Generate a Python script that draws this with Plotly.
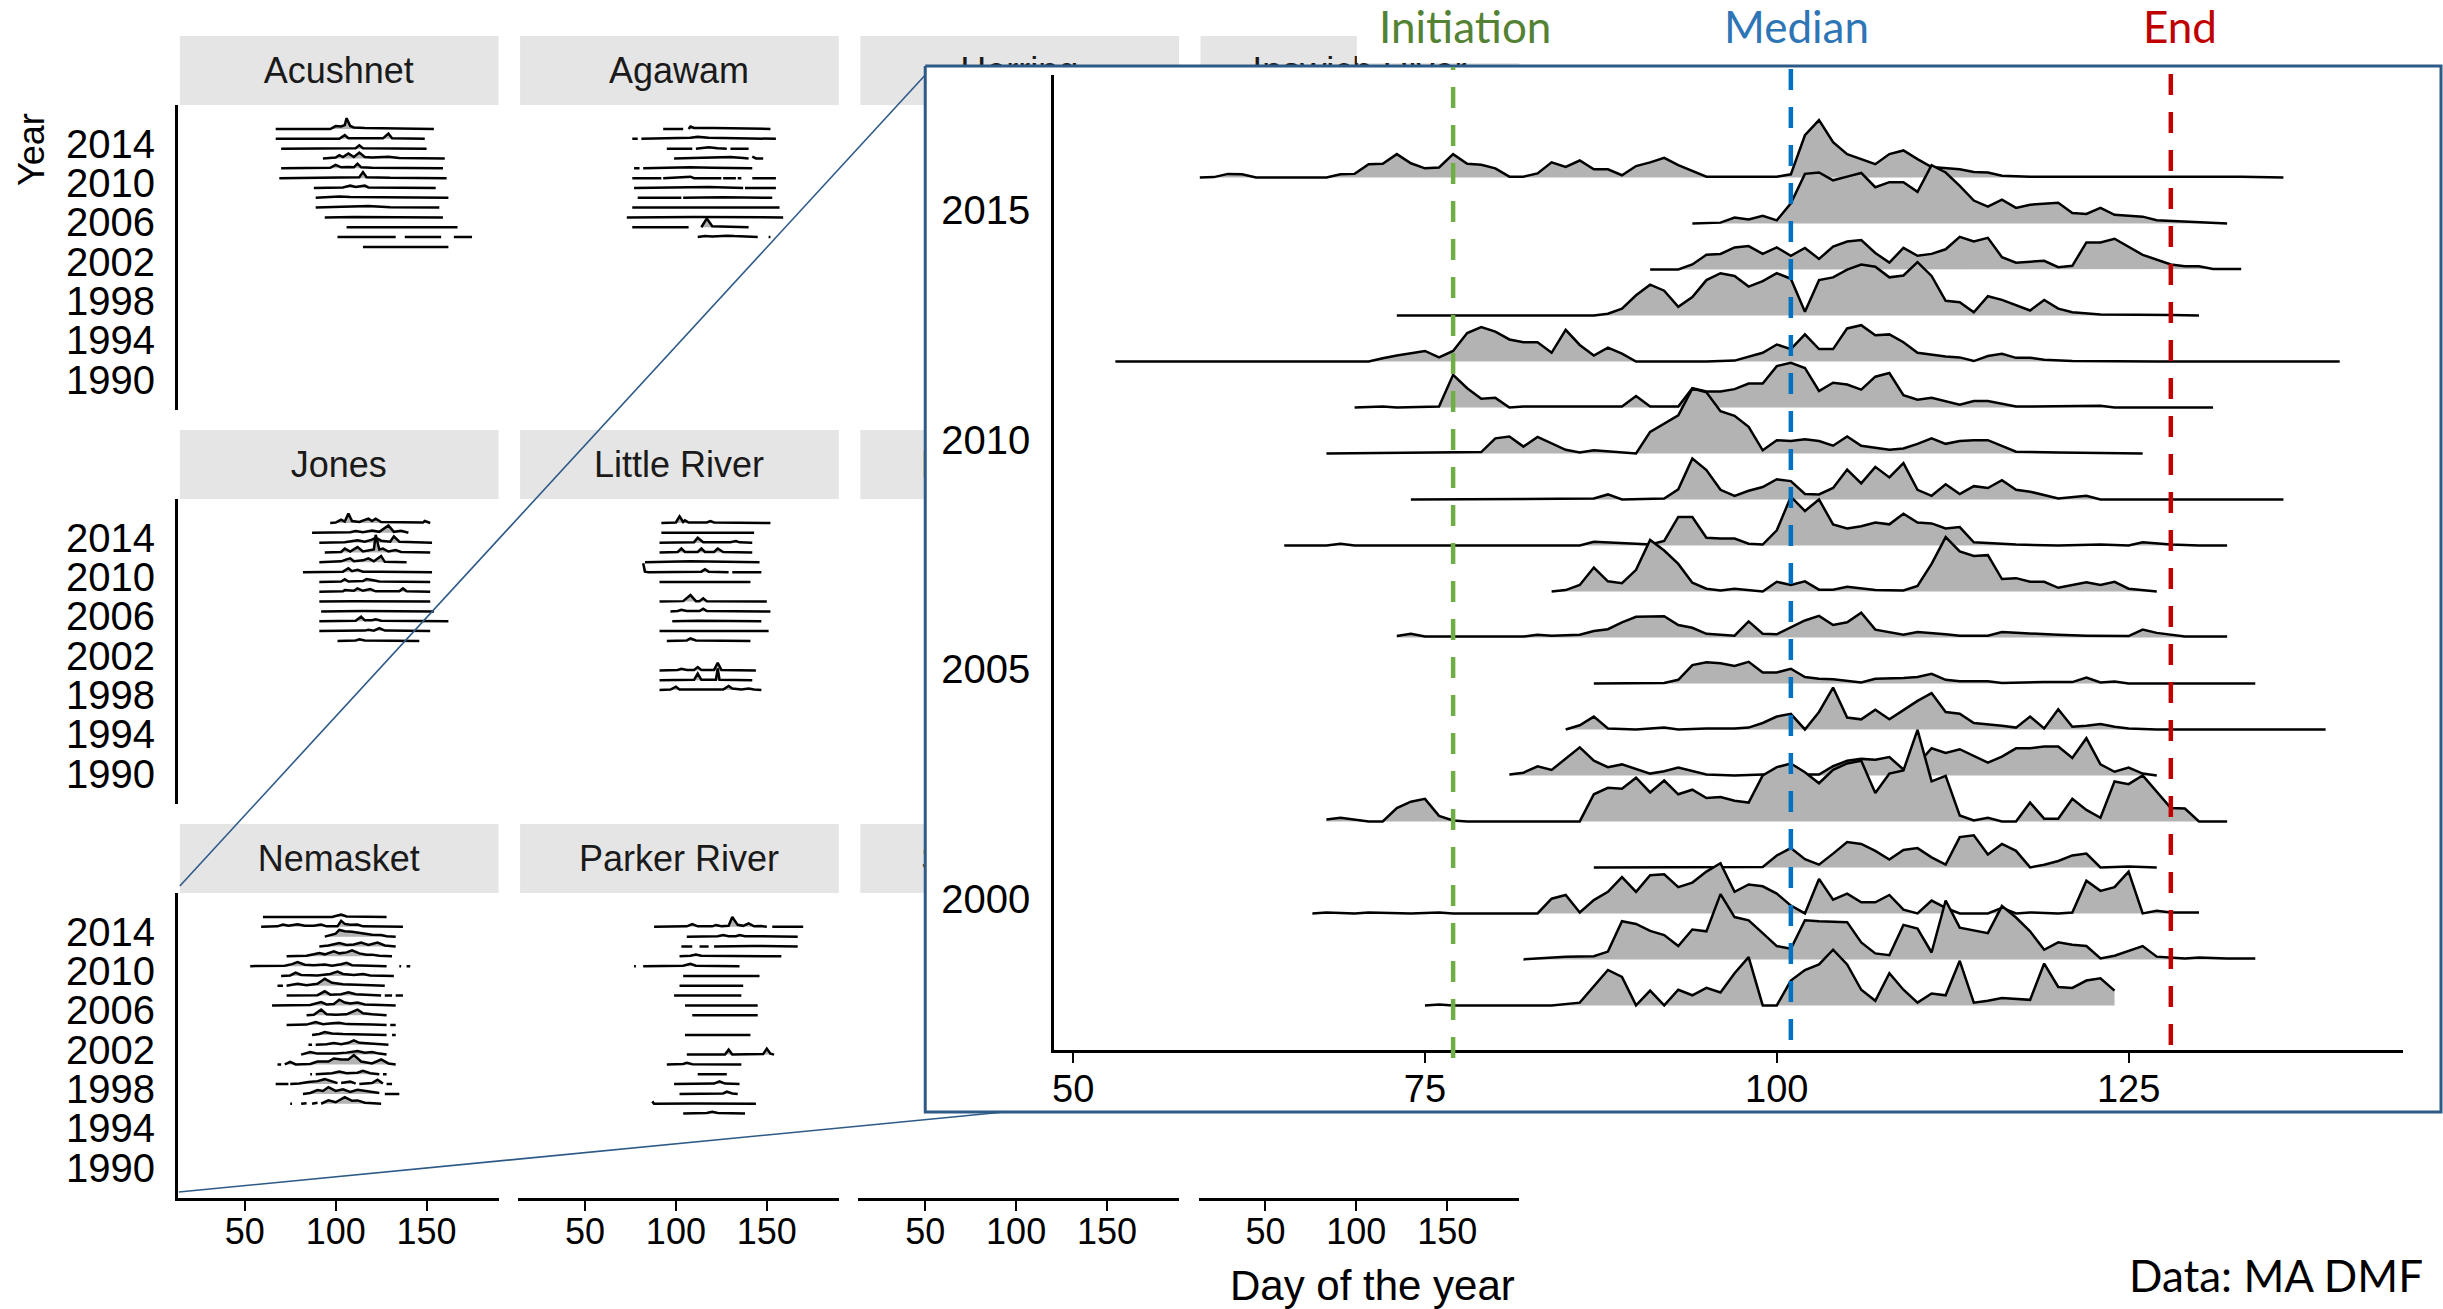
import plotly.graph_objects as go

W, H = 2443, 1309
FONT = "Liberation Sans, Arial, sans-serif"
LABEL_FONT = "Lato, sans-serif"
RIDGE_FILL = "#B3B3B3"
BOX_BLUE = "#2E5A88"

# ---------------------------------------------------------------------------
# Facet grid: strip titles, row by row
rivers = ["Acushnet", "Agawam", "Herring", "Ipswich River",
          "Jones", "Little River", "Mattapoisett", "Monument",
          "Nemasket", "Parker River", "Stony Brook", "Town Brook"]

facet_year_ticks = [1990, 1994, 1998, 2002, 2006, 2010, 2014]
facet_day_ticks = [50, 100, 150]
inset_year_ticks = [2000, 2005, 2010, 2015]
inset_day_ticks = [50, 75, 100, 125]

# Nemasket run timing (day of year)
initiation_day = 77
median_day = 101
end_day = 128

# ---------------------------------------------------------------------------
# Small multiples: per year, list of observed segments of (day, relative count)
acushnet = {
    2016: [[(67, 0), (97, 0), (100, 0.3), (103, 0.25), (105, 0.4), (106, 1.1), (108, 0.3), (110, 0.15), (116, 0.1), (154, 0)]],
    2015: [[(67, 0), (102, 0), (105, 0.37), (107, 0.05), (126, 0.05), (129, 0.54), (131, 0.05), (149, 0)]],
    2014: [[(70, 0), (105, 0.05), (111, 0.05), (113, 0.34), (115, 0.05), (150, 0)]],
    2013: [[(93, 0), (100, 0.1), (102, 0.34), (104, 0.15), (107, 0.5), (110, 0.15), (113, 0.6), (116, 0.15), (120, 0.1), (129, 0.17), (135, 0.05), (160, 0)]],
    2012: [[(70, 0), (97, 0.05), (100, 0.34), (103, 0.1), (107, 0.14), (110, 0.1), (112, 0.47), (114, 0.1), (120, 0.05), (159, 0)]],
    2011: [[(69, 0), (100, 0.05), (113, 0.1), (115, 0.61), (117, 0.1), (130, 0.03), (161, 0)]],
    2010: [[(88, 0), (104, 0.05), (108, 0.24), (111, 0.1), (116, 0.24), (118, 0.05), (155, 0)]],
    2009: [[(89, 0), (100, 0.1), (102, 0.14), (108, 0.08), (114, 0.07), (162, 0)]],
    2008: [[(89, 0), (108, 0.1), (118, 0.17), (130, 0.03), (157, 0)]],
    2007: [[(94, 0), (110, 0.05), (159, 0)]],
    2006: [[(106, 0), (167, 0)]],
    2005: [[(101, 0), (133, 0)], [(138, 0), (158, 0)], [(165, 0), (175, 0)]],
    2004: [[(115, 0), (162, 0)]],
}

agawam = {
    2016: [[(93, 0), (104, 0)], [(107, 0), (108, 0.25), (110, 0.1), (118, 0.15), (121, 0.1), (152, 0)]],
    2015: [[(76, 0), (79, 0)], [(81, 0), (108, 0.1), (112, 0.2), (118, 0.1), (155, 0)]],
    2014: [[(95, 0), (109, 0)], [(111, 0), (118, 0.15), (123, 0.05), (128, 0)], [(130, 0), (140, 0)]],
    2013: [[(99, 0), (118, 0.1), (130, 0.15), (137, 0.05), (140, 0)], [(142, 0.2), (144, 0), (148, 0)]],
    2012: [[(77, 0), (80, 0)], [(82, 0), (108, 0.1), (120, 0.05), (142, 0)]],
    2011: [[(76, 0), (92, 0)], [(93, 0), (104, 0.1), (108, 0.15), (110, 0), (125, 0)], [(126, 0), (133, 0)], [(134, 0), (136, 0)], [(142, 0), (155, 0)]],
    2010: [[(77, 0), (118, 0.1), (137, 0)], [(138, 0), (155, 0)]],
    2009: [[(79, 0), (103, 0)], [(104, 0), (126, 0.05), (153, 0)]],
    2008: [[(76, 0), (157, 0)]],
    2007: [[(73, 0), (110, 0.05), (159, 0)]],
    2006: [[(76, 0), (107, 0)], [(114, 0), (117, 0.9), (120, 0.1), (140, 0)]],
    2005: [[(112, 0), (116, 0.1), (120, 0.05), (128, 0.15), (132, 0.1), (145, 0)], [(151, 0), (152, 0)]],
}

jones = {
    2016: [[(97, 0), (100, 0.05), (103, 0.34), (105, 0.15), (107, 0.95), (109, 0.2), (113, 0.1), (118, 0.44), (120, 0.2), (122, 0.44), (125, 0.1), (148, 0.05), (149, 0.2), (152, 0)]],
    2015: [[(87, 0), (108, 0.05), (111, 0.17), (115, 0.05), (120, 0.24), (124, 0.1), (129, 0.75), (132, 0.1), (136, 0.2), (140, 0)]],
    2014: [[(91, 0), (105, 0.05), (112, 0.24), (116, 0.1), (120, 0.3), (122, 0.5), (125, 0.2), (130, 0.1), (132, 0.64), (135, 0.1), (153, 0)]],
    2013: [[(94, 0), (103, 0.05), (105, 0.4), (108, 0.1), (112, 0.55), (115, 0.1), (121, 0.3), (122, 1.8), (124, 0.3), (126, 0.4), (129, 0.1), (133, 0.25), (136, 0.05), (152, 0)]],
    2012: [[(91, 0), (103, 0.1), (106, 0.3), (108, 0.4), (110, 0.1), (115, 0.2), (118, 0.4), (121, 0.1), (125, 0.64), (127, 0.05), (139, 0)]],
    2011: [[(82, 0), (104, 0.05), (107, 0.4), (109, 0.1), (112, 0.24), (115, 0.05), (125, 0.05), (153, 0)]],
    2010: [[(91, 0), (103, 0.05), (105, 0.27), (107, 0.05), (115, 0.1), (117, 0.3), (120, 0.2), (124, 0.05), (152, 0)]],
    2009: [[(91, 0), (104, 0.05), (105, 0.17), (110, 0.1), (112, 0.34), (115, 0.1), (119, 0.27), (122, 0.05), (135, 0.05), (137, 0.34), (139, 0.05), (152, 0)]],
    2008: [[(91, 0), (110, 0.05), (152, 0)]],
    2007: [[(92, 0), (115, 0.05), (154, 0)]],
    2006: [[(91, 0), (111, 0.05), (114, 0.47), (116, 0.1), (120, 0.1), (122, 0.2), (125, 0.05), (162, 0)]],
    2005: [[(91, 0), (116, 0.05), (118, 0.14), (121, 0.05), (124, 0.3), (127, 0.05), (152, 0)]],
    2004: [[(101, 0), (111, 0.05), (113, 0.17), (116, 0.05), (146, 0)]],
}

little_river = {
    2016: [[(92, 0), (100, 0.05), (102, 0.68), (104, 0.1), (105, 0.27), (107, 0.05), (117, 0.05), (119, 0.2), (121, 0.05), (152, 0)]],
    2015: [[(92, 0), (143, 0)]],
    2014: [[(91, 0), (110, 0.05), (112, 0.5), (115, 0.05), (130, 0.05), (133, 0.17), (135, 0.03), (142, 0)]],
    2013: [[(91, 0), (101, 0.05), (103, 0.4), (105, 0.05), (112, 0.05), (114, 0.4), (116, 0.05), (121, 0.05), (123, 0.4), (126, 0.05), (142, 0)]],
    2012: [[(83, 0), (105, 0.1), (108, 0.1), (146, 0)]],
    2011: [[(82, 0.9), (83, 0.05), (85, 0), (114, 0.05), (116, 0.3), (118, 0.05), (129, 0)], [(131, 0), (147, 0)]],
    2010: [[(91, 0), (141, 0)]],
    2008: [[(91, 0), (104, 0.05), (108, 0.68), (111, 0.05), (113, 0.05), (115, 0.34), (117, 0.05), (150, 0)]],
    2007: [[(97, 0), (101, 0.05), (103, 0.17), (106, 0.05), (113, 0.05), (115, 0.27), (117, 0.05), (152, 0)]],
    2006: [[(98, 0), (112, 0.05), (147, 0)]],
    2005: [[(91, 0), (151, 0)]],
    2004: [[(95, 0), (106, 0.05), (108, 0.27), (111, 0.05), (141, 0)]],
    2001: [[(91, 0), (101, 0.05), (103, 0.17), (106, 0.05), (110, 0.05), (112, 0.34), (114, 0.05), (121, 0.05), (123, 0.78), (125, 0.05), (144, 0)]],
    2000: [[(91, 0), (100, 0.05), (110, 0.05), (112, 0.68), (114, 0.05), (122, 0.05), (123, 1.2), (124, 0.05), (142, 0)]],
    1999: [[(91, 0), (97, 0.05), (100, 0.34), (102, 0.05), (126, 0.05), (129, 0.41), (131, 0.15), (136, 0.05), (140, 0.17), (143, 0.05), (147, 0)]],
}

nemasket = {
    2016: [[(60, 0), (98, 0), (100, 0.1), (103, 0.24), (106, 0.05), (128, 0)]],
    2015: [[(59, 0), (68, 0.05), (71, 0.24), (74, 0.1), (79, 0.27), (83, 0.1), (88, 0.1), (92, 0.24), (95, 0.05), (101, 0.05), (103, 0.61), (105, 0.3), (108, 0.2), (112, 0.24), (115, 0.05), (137, 0)]],
    2014: [[(94, 0), (96, 0.1), (100, 0.3), (102, 0.68), (105, 0.55), (109, 0.5), (115, 0.3), (120, 0.2), (125, 0.17), (128, 0.05), (133, 0)]],
    2013: [[(91, 0), (96, 0.1), (102, 0.34), (106, 0.15), (110, 0.2), (114, 0.4), (118, 0.15), (123, 0.4), (127, 0.1), (133, 0)]],
    2012: [[(73, 0), (84, 0.05), (88, 0.2), (91, 0.34), (94, 0.2), (99, 0.5), (102, 0.3), (106, 0.4), (109, 0.61), (113, 0.3), (117, 0.15), (120, 0.17), (124, 0.05), (131, 0)]],
    2011: [[(53, 0), (72, 0.05), (76, 0.2), (79, 0.41), (83, 0.15), (88, 0.1), (94, 0.17), (98, 0.05), (103, 0.2), (106, 0.34), (109, 0.1), (116, 0.05), (128, 0)], [(135, 0), (136, 0)], [(139, 0), (141, 0)]],
    2010: [[(70, 0), (75, 0.05), (78, 0.34), (81, 0.1), (90, 0.05), (97, 0.2), (101, 0.44), (104, 0.2), (110, 0.1), (115, 0.2), (119, 0.05), (132, 0)]],
    2009: [[(68, 0), (71, 0)], [(73, 0), (79, 0.2), (84, 0.05), (90, 0.2), (94, 0.71), (98, 0.3), (104, 0.15), (110, 0.1), (120, 0.05), (127, 0)]],
    2008: [[(73, 0), (90, 0.05), (94, 0.44), (97, 0.1), (103, 0.15), (107, 0.34), (111, 0.15), (118, 0.1), (125, 0)], [(127, 0), (131, 0)], [(133, 0), (137, 0)]],
    2007: [[(65, 0), (86, 0.05), (92, 0.34), (95, 0.1), (99, 0.15), (102, 0.58), (105, 0.3), (108, 0.2), (112, 0.3), (116, 0.1), (125, 0.05), (133, 0)]],
    2006: [[(84, 0), (88, 0.05), (92, 0.58), (95, 0.1), (100, 0.05), (106, 0.1), (112, 0.58), (115, 0.2), (120, 0.1), (124, 0.05), (128, 0)]],
    2005: [[(73, 0), (84, 0.05), (89, 0.3), (93, 0.1), (98, 0.2), (102, 0.24), (106, 0.1), (115, 0.1), (120, 0.05), (128, 0)], [(130, 0), (133, 0)]],
    2004: [[(87, 0), (91, 0.1), (94, 0.3), (98, 0.15), (104, 0.1), (115, 0.05), (128, 0)], [(131, 0), (133, 0)]],
    2003: [[(85, 0), (87, 0)], [(89, 0), (95, 0.05), (99, 0.17), (103, 0.05), (107, 0.2), (110, 0.44), (113, 0.2), (120, 0.1), (129, 0)]],
    2002: [[(81, 0), (86, 0.27), (90, 0.1), (100, 0.1), (106, 0.2), (112, 0.37), (116, 0.2), (120, 0.27), (124, 0.1), (128, 0)]],
    2001: [[(68, 0), (70, 0)], [(72, 0), (75, 0.27), (78, 0), (86, 0.05), (90, 0.3), (96, 0.3), (99, 0.61), (103, 0.5), (107, 0.5), (110, 0.95), (114, 0.3), (120, 0.1), (125, 0.5), (129, 0.1), (133, 0)]],
    2000: [[(86, 0), (87, 0)], [(89, 0), (98, 0.1), (102, 0.27), (106, 0.1), (112, 0.15), (115, 0.34), (119, 0.1), (124, 0)], [(126, 0), (128, 0)]],
    1999: [[(67, 0), (74, 0)], [(75, 0), (80, 0.05), (85, 0.2), (90, 0.3), (94, 0.5), (98, 0.3), (101, 0.1)], [(103, 0.1), (108, 0.27), (111, 0.05)], [(113, 0), (117, 0.05), (120, 0.1), (123, 0.44), (126, 0.05)], [(128, 0), (131, 0)]],
    1998: [[(82, 0), (86, 0.1), (90, 0.4), (93, 0.3), (96, 0.68), (100, 0.3), (104, 0.47), (108, 0.2), (112, 0.41), (116, 0.3), (120, 0.24), (124, 0.1)], [(127, 0), (135, 0)]],
    1997: [[(75, 0), (76, 0)], [(81, 0), (84, 0.05)], [(87, 0), (90, 0.1)], [(92, 0), (96, 0.34), (100, 0.15), (105, 0.68), (109, 0.3), (112, 0.34), (116, 0.1), (120, 0.05), (125, 0)]],
}

parker_river = {
    2015: [[(88, 0), (106, 0.05), (109, 0.27), (112, 0.05), (120, 0.05), (122, 0.17), (125, 0.05), (129, 0.1), (131, 1.0), (134, 0.2), (137, 0.1), (140, 0.34), (143, 0.05), (147, 0.07), (150, 0)], [(153, 0), (170, 0)]],
    2014: [[(106, 0), (123, 0.05), (126, 0.17), (129, 0.05), (133, 0.05), (135, 0.17), (138, 0.05), (167, 0)]],
    2013: [[(103, 0), (109, 0)], [(113, 0), (118, 0)], [(121, 0), (138, 0.05), (140, 0.1), (142, 0.05), (167, 0)]],
    2012: [[(102, 0), (108, 0.05), (111, 0.17), (114, 0.05), (158, 0)]],
    2011: [[(77, 0), (78, 0)], [(82, 0), (104, 0.05), (108, 0.24), (111, 0.05), (135, 0)]],
    2010: [[(104, 0), (146, 0)]],
    2009: [[(102, 0), (137, 0)]],
    2008: [[(99, 0), (136, 0)]],
    2007: [[(105, 0), (145, 0)]],
    2006: [[(109, 0), (145, 0)]],
    2004: [[(105, 0), (141, 0)]],
    2002: [[(106, 0), (127, 0), (129, 0.5), (131, 0), (148, 0.05), (150, 0.61), (152, 0.1), (154, 0)]],
    2001: [[(95, 0), (104, 0.05), (106, 0.17), (109, 0.03), (136, 0)]],
    2000: [[(112, 0), (128, 0)]],
    1999: [[(99, 0), (121, 0.05), (124, 0.27), (127, 0.05), (135, 0)]],
    1998: [[(102, 0), (126, 0.05), (128, 0.24), (131, 0.05), (134, 0)]],
    1997: [[(87, 0.24), (88, 0), (110, 0.03), (125, 0.05), (144, 0)]],
    1996: [[(104, 0), (117, 0.05), (120, 0.17), (123, 0.05), (138, 0)]],
}

panel_data = {"Acushnet": acushnet, "Agawam": agawam, "Jones": jones,
              "Little River": little_river, "Nemasket": nemasket,
              "Parker River": parker_river}

# ---------------------------------------------------------------------------
# Inset: Nemasket daily run, (day, relative count) per year
run_2016 = [(59, 0), (60, 0.01), (61, 0.08), (62, 0.07), (63, 0), (68, 0), (69, 0.07), (70, 0.08), (71, 0.29), (72, 0.30), (73, 0.51), (74, 0.31), (75, 0.20), (76, 0.22), (77, 0.51), (78, 0.30), (79, 0.28), (80, 0.20), (81, 0.02), (82, 0.02), (83, 0.09), (84, 0.33), (85, 0.23), (86, 0.37), (87, 0.18), (88, 0.18), (89, 0.05), (90, 0.25), (91, 0.33), (92, 0.43), (93, 0.27), (95, 0.02), (100, 0.02), (101, 0.07), (102, 0.92), (103, 1.25), (104, 0.77), (105, 0.51), (107, 0.29), (108, 0.51), (109, 0.59), (110, 0.40), (111, 0.23), (113, 0.18), (114, 0.12), (115, 0.11), (116, 0.04), (118, 0.02), (133, 0.02), (136, 0)]
run_2015 = [(94, 0), (96, 0.02), (97, 0.13), (98, 0.09), (99, 0.17), (100, 0.07), (101, 0.44), (102, 1.08), (103, 1.11), (104, 0.94), (105, 1.02), (106, 1.10), (107, 0.79), (108, 0.90), (109, 0.90), (110, 0.69), (111, 1.27), (112, 1.11), (113, 0.82), (114, 0.50), (115, 0.37), (116, 0.52), (117, 0.34), (118, 0.41), (120, 0.45), (121, 0.23), (122, 0.21), (123, 0.34), (124, 0.19), (126, 0.15), (127, 0.07), (130, 0.02), (132, 0)]
run_2014 = [(91, 0), (93, 0), (94, 0.11), (95, 0.32), (96, 0.34), (97, 0.48), (98, 0.51), (99, 0.34), (100, 0.48), (101, 0.30), (102, 0.47), (103, 0.23), (104, 0.50), (105, 0.61), (106, 0.64), (107, 0.36), (108, 0.15), (109, 0.47), (110, 0.30), (111, 0.34), (112, 0.44), (113, 0.71), (114, 0.61), (115, 0.69), (116, 0.27), (117, 0.15), (119, 0.19), (120, 0.05), (121, 0.08), (122, 0.59), (123, 0.59), (124, 0.67), (126, 0.32), (128, 0.11), (129, 0.07), (130, 0.07), (131, 0.01), (133, 0.01)]
run_2013 = [(73, 0), (87, 0), (88, 0.04), (89, 0.15), (90, 0.44), (91, 0.67), (92, 0.54), (93, 0.19), (94, 0.40), (95, 0.77), (96, 0.92), (97, 0.86), (98, 0.63), (99, 0.75), (100, 0.92), (101, 0.80), (102, 0.08), (103, 0.77), (104, 0.83), (105, 1.0), (106, 1.11), (107, 1.06), (108, 0.83), (109, 0.87), (110, 1.16), (111, 0.86), (112, 0.32), (113, 0.29), (114, 0.07), (115, 0.42), (116, 0.34), (117, 0.22), (118, 0.11), (119, 0.34), (120, 0.15), (121, 0.07), (123, 0.02), (128, 0.01), (130, 0)]
run_2012 = [(53, 0), (67, 0), (71, 0), (72, 0.07), (73, 0.13), (75, 0.23), (76, 0.09), (77, 0.23), (78, 0.62), (79, 0.75), (80, 0.65), (81, 0.48), (82, 0.42), (83, 0.42), (84, 0.19), (85, 0.69), (86, 0.36), (87, 0.13), (88, 0.30), (89, 0.17), (90, 0), (95, 0), (97, 0.02), (99, 0.19), (100, 0.37), (101, 0.27), (102, 0.59), (103, 0.27), (104, 0.27), (105, 0.72), (106, 0.79), (107, 0.57), (108, 0.59), (109, 0.42), (110, 0.19), (112, 0.11), (113, 0.09), (114, 0.01), (115, 0.12), (116, 0.17), (117, 0.08), (118, 0.08), (119, 0.04), (121, 0.01), (127, 0), (140, 0)]
run_2011 = [(70, 0), (72, 0.02), (73, 0), (76, 0.02), (77, 0.71), (78, 0.42), (79, 0.19), (80, 0.21), (81, 0), (82, 0.02), (89, 0.02), (90, 0.25), (91, 0.02), (93, 0.02), (94, 0.42), (95, 0.35), (96, 0.35), (97, 0.40), (98, 0.52), (99, 0.52), (100, 0.90), (101, 0.97), (102, 0.86), (103, 0.36), (104, 0.54), (105, 0.50), (106, 0.39), (107, 0.67), (108, 0.75), (109, 0.27), (110, 0.17), (111, 0.21), (113, 0.06), (114, 0.14), (115, 0.14), (117, 0.02), (123, 0.04), (124, 0), (131, 0)]
run_2010 = [(68, 0), (77, 0.02), (79, 0.03), (80, 0.33), (81, 0.37), (82, 0.15), (83, 0.36), (85, 0.08), (86, 0.02), (87, 0.07), (90, 0), (91, 0.47), (92, 0.65), (93, 0.83), (94, 1.41), (95, 1.33), (96, 0.92), (97, 0.82), (98, 0.58), (99, 0.07), (100, 0.29), (101, 0.27), (102, 0.31), (103, 0.27), (104, 0.17), (105, 0.37), (106, 0.17), (107, 0.12), (108, 0.08), (109, 0.11), (110, 0.21), (111, 0.33), (112, 0.21), (113, 0.27), (114, 0.29), (115, 0.29), (116, 0.17), (117, 0.04), (120, 0.02), (126, 0)]
run_2009 = [(74, 0), (87, 0.02), (88, 0.11), (89, 0), (92, 0.02), (93, 0.22), (94, 0.89), (95, 0.64), (96, 0.21), (97, 0.08), (98, 0.19), (99, 0.27), (100, 0.44), (101, 0.40), (102, 0.12), (103, 0.11), (104, 0.25), (105, 0.65), (106, 0.35), (107, 0.71), (108, 0.48), (109, 0.79), (110, 0.21), (111, 0.08), (112, 0.33), (113, 0.12), (114, 0.29), (115, 0.25), (116, 0.42), (117, 0.21), (118, 0.17), (120, 0.02), (122, 0.08), (123, 0), (136, 0)]
run_2008 = [(65, 0), (68, 0), (69, 0.04), (70, 0), (86, 0), (87, 0.08), (90, 0.04), (91, 0.02), (92, 0.10), (93, 0.62), (94, 0.62), (95, 0.17), (96, 0.15), (97, 0.15), (98, 0.04), (99, 0.02), (100, 0.33), (101, 1.06), (102, 0.75), (103, 1.0), (104, 0.46), (105, 0.37), (106, 0.42), (107, 0.50), (108, 0.46), (109, 0.69), (110, 0.50), (111, 0.48), (112, 0.37), (113, 0.40), (114, 0.07), (116, 0.04), (117, 0.02), (120, 0), (123, 0.02), (125, 0), (126, 0.07), (128, 0.02), (130, 0), (132, 0)]
run_2007 = [(84, 0), (85, 0.03), (86, 0.14), (87, 0.52), (88, 0.22), (89, 0.18), (90, 0.47), (91, 1.12), (92, 0.89), (93, 0.60), (94, 0.19), (95, 0.06), (96, 0.02), (97, 0.06), (99, 0), (100, 0.21), (101, 0.14), (102, 0.22), (103, 0.04), (104, 0.04), (105, 0.10), (107, 0.03), (109, 0.02), (110, 0.12), (111, 0.60), (112, 1.18), (113, 0.87), (114, 0.77), (115, 0.79), (116, 0.27), (117, 0.29), (118, 0.21), (119, 0.21), (120, 0.08), (121, 0.14), (122, 0.20), (123, 0.14), (124, 0.21), (125, 0.06), (127, 0)]
run_2006 = [(73, 0.03), (74, 0.08), (75, 0.02), (82, 0.02), (83, 0.06), (84, 0.04), (86, 0.06), (87, 0.14), (88, 0.18), (89, 0.33), (90, 0.45), (92, 0.46), (93, 0.27), (94, 0.21), (95, 0.08), (96, 0.06), (97, 0.04), (98, 0.35), (99, 0.08), (100, 0.07), (101, 0.22), (102, 0.37), (103, 0.47), (104, 0.27), (105, 0.33), (106, 0.54), (107, 0.17), (109, 0.06), (110, 0.12), (111, 0.10), (112, 0.07), (113, 0.04), (115, 0.04), (116, 0.12), (117, 0.10), (120, 0.06), (122, 0.04), (125, 0.03), (126, 0.17), (127, 0.10), (129, 0.02), (132, 0.02)]
run_2005 = [(87, 0), (92, 0.01), (93, 0.08), (94, 0.40), (95, 0.46), (96, 0.44), (97, 0.38), (98, 0.47), (99, 0.24), (100, 0.24), (101, 0.32), (102, 0.14), (103, 0.10), (104, 0.09), (106, 0.02), (107, 0.10), (109, 0.12), (110, 0.14), (111, 0.21), (112, 0.08), (113, 0.05), (115, 0.05), (116, 0.01), (117, 0.02), (119, 0.03), (121, 0.03), (122, 0.13), (123, 0.02), (124, 0.04), (125, 0), (134, 0)]
run_2004 = [(85, 0), (86, 0.09), (87, 0.28), (88, 0.02), (90, 0), (92, 0.04), (93, 0), (95, 0.02), (97, 0.02), (98, 0.04), (99, 0.14), (100, 0.28), (101, 0.34), (102, 0), (103, 0.38), (104, 0.91), (105, 0.26), (106, 0.22), (107, 0.43), (108, 0.22), (109, 0.42), (110, 0.62), (111, 0.79), (112, 0.38), (113, 0.34), (114, 0.14), (116, 0.08), (117, 0.04), (118, 0.28), (119, 0.02), (120, 0.44), (121, 0.06), (122, 0.08), (123, 0.12), (124, 0.06), (125, 0.02), (127, 0), (139, 0)]
run_2003 = [(81, 0.02), (82, 0.06), (83, 0.20), (84, 0.12), (86, 0.61), (87, 0.32), (88, 0.18), (89, 0.24), (91, 0.04), (92, 0.09), (93, 0.17), (95, 0.02), (97, 0), (99, 0.02), (101, 0.02), (103, 0.02), (104, 0.20), (105, 0.32), (106, 0.36), (107, 0.34), (108, 0.40), (109, 0.13), (110, 0.24), (111, 0.59), (112, 0.49), (113, 0.57), (115, 0.28), (116, 0.41), (117, 0.59), (118, 0.59), (119, 0.63), (120, 0.63), (121, 0.38), (122, 0.81), (123, 0.24), (124, 0.08), (125, 0.17), (126, 0.04), (127, 0)]
run_2002 = [(68, 0.04), (69, 0.08), (71, 0), (72, 0), (73, 0.29), (74, 0.43), (75, 0.49), (76, 0.12), (77, 0.02), (78, 0), (86, 0), (87, 0.59), (88, 0.73), (89, 0.71), (90, 0.95), (91, 0.63), (92, 0.89), (93, 0.59), (94, 0.69), (95, 0.51), (96, 0.53), (97, 0.45), (98, 0.41), (99, 1.0), (100, 1.18), (101, 1.26), (102, 1.07), (103, 0.83), (104, 1.12), (105, 1.26), (106, 1.32), (107, 0.62), (108, 1.04), (109, 1.11), (110, 1.99), (111, 0.87), (112, 0.99), (113, 0.13), (114, 0.02), (115, 0.08), (116, 0), (117, 0), (118, 0.41), (119, 0.06), (120, 0.06), (121, 0.49), (122, 0.25), (123, 0.08), (124, 0.87), (125, 0.81), (126, 1.0), (127, 0.65), (128, 0.29), (129, 0.28), (130, 0), (132, 0)]
run_2001 = [(87, 0), (97, 0), (99, 0.01), (100, 0.26), (101, 0.42), (102, 0.18), (103, 0.06), (104, 0.30), (105, 0.55), (106, 0.51), (107, 0.36), (108, 0.17), (109, 0.38), (110, 0.42), (111, 0.22), (112, 0.06), (113, 0.66), (114, 0.70), (115, 0.28), (116, 0.51), (117, 0.36), (118, 0), (119, 0.06), (120, 0.14), (121, 0.26), (122, 0.30), (123, 0), (125, 0.02), (127, 0)]
run_2000 = [(67, 0), (68, 0.02), (70, 0), (71, 0.02), (74, 0), (76, 0.02), (77, 0), (83, 0), (84, 0.32), (85, 0.40), (86, 0.02), (87, 0.29), (88, 0.47), (89, 0.79), (90, 0.47), (91, 0.83), (92, 0.85), (93, 0.57), (94, 0.67), (95, 0.91), (96, 1.09), (97, 0.47), (98, 0.63), (99, 0.59), (100, 0.43), (101, 0.17), (102, 0), (103, 0.75), (104, 0.30), (105, 0.43), (106, 0.24), (107, 0.24), (108, 0.40), (109, 0.08), (110, 0), (111, 0.28), (112, 0.12), (113, 0), (115, 0), (116, 0.12), (117, 0), (118, 0.02), (120, 0), (121, 0.02), (122, 0.71), (123, 0.49), (124, 0.57), (125, 0.91), (126, 0), (127, 0.06), (128, 0.02), (130, 0.02)]
run_1999 = [(82, 0), (83, 0.02), (85, 0.06), (87, 0.07), (88, 0.17), (89, 0.83), (90, 0.77), (91, 0.62), (92, 0.53), (93, 0.29), (94, 0.65), (95, 0.61), (96, 1.42), (97, 0.92), (98, 0.85), (99, 0.57), (100, 0.29), (101, 0.23), (102, 0.85), (103, 0.83), (105, 0.81), (106, 0.37), (107, 0.13), (108, 0.09), (109, 0.75), (110, 0.67), (111, 0.15), (112, 1.28), (113, 0.69), (115, 0.57), (116, 1.16), (117, 0.91), (118, 0.61), (119, 0.21), (120, 0.37), (121, 0.32), (122, 0.29), (123, 0.02), (124, 0.08), (126, 0.29), (127, 0.06), (129, 0.02), (130, 0.04), (132, 0.02), (134, 0.02)]
run_1998 = [(75, 0), (76, 0.02), (77, 0), (84, 0), (86, 0.06), (87, 0.42), (88, 0.77), (89, 0.62), (90, 0), (91, 0.32), (92, 0), (93, 0.34), (94, 0.22), (95, 0.38), (96, 0.28), (97, 0.70), (98, 1.05), (99, 0), (100, 0), (101, 0.54), (102, 0.77), (103, 0.89), (104, 1.21), (105, 0.89), (106, 0.34), (107, 0.10), (108, 0.70), (109, 0.34), (110, 0.06), (111, 0.26), (112, 0.22), (113, 0.97), (114, 0.06), (115, 0.10), (116, 0.16), (118, 0.12), (119, 0.91), (120, 0.40), (121, 0.38), (122, 0.54), (123, 0.59), (124, 0.32)]

nemasket_runs = {2016: run_2016, 2015: run_2015, 2014: run_2014, 2013: run_2013,
                 2012: run_2012, 2011: run_2011, 2010: run_2010, 2009: run_2009,
                 2008: run_2008, 2007: run_2007, 2006: run_2006, 2005: run_2005,
                 2004: run_2004, 2003: run_2003, 2002: run_2002, 2001: run_2001,
                 2000: run_2000, 1999: run_1999, 1998: run_1998}

# ---------------------------------------------------------------------------
fig = go.Figure()
layout = {}


def hdom(a, b):
    return [a / W, b / W]


def vdom(top, bottom):
    return [1 - bottom / H, 1 - top / H]


def add_ridge(segments, year, xa, ya, width):
    """Grey filled ridge on baseline `year`, outlined in black (back to front)."""
    fx, fy, lx, ly = [], [], [], []
    for seg in segments:
        d = [p[0] for p in seg]
        v = [year + p[1] for p in seg]
        lx += d + [None]
        ly += v + [None]
        fx += d + [d[-1], d[0], None]
        fy += v + [year, year, None]
    fig.add_trace(go.Scatter(x=fx, y=fy, mode="lines", fill="toself",
                             fillcolor=RIDGE_FILL, line=dict(width=0),
                             xaxis=xa, yaxis=ya, hoverinfo="skip"))
    fig.add_trace(go.Scatter(x=lx, y=ly, mode="lines",
                             line=dict(color="black", width=width),
                             xaxis=xa, yaxis=ya, hoverinfo="skip"))


hidden = dict(visible=False, showgrid=False, zeroline=False)

# axis 1: page canvas for strips (drawn underneath everything else)
layout["xaxis"] = dict(domain=[0, 1], range=[0, W], **hidden)
layout["yaxis"] = dict(domain=[0, 1], range=[H, 0], **hidden)

shapes = []
strip_x, strip_y = [], []
for r in range(3):
    for c in range(4):
        left = 176 + 340.5 * c
        top = 105 + 394 * r
        shapes.append(dict(type="rect", xref="paper", yref="paper", layer="below",
                           x0=(left + 2) / W, x1=(left + 321) / W,
                           y0=1 - top / H, y1=1 - (top - 69) / H,
                           fillcolor="#E5E5E5", line=dict(width=0)))
        strip_x.append(left + 161)
        strip_y.append(top - 31)

fig.add_trace(go.Scatter(x=strip_x, y=strip_y, text=rivers, mode="text",
                         textfont=dict(family=FONT, size=36, color="#1A1A1A"),
                         textposition="middle center", xaxis="x", yaxis="y",
                         hoverinfo="skip"))

# axes 2..13: facet panels
for r in range(3):
    for c in range(4):
        k = r * 4 + c
        n = 2 + k
        left = 176 + 340.5 * c
        top = 105 + 394 * r
        xa = dict(domain=hdom(left, left + 321), range=[13.2, 189.6],
                  showgrid=False, zeroline=False, anchor=f"y{n}")
        if r == 2:
            xa.update(showline=True, linecolor="black", linewidth=3,
                      ticks="outside", ticklen=10, tickwidth=2, tickcolor="black",
                      tickvals=facet_day_ticks, ticklabelstandoff=-10,
                      tickfont=dict(family=FONT, size=36, color="black"))
        else:
            xa.update(showticklabels=False, ticks="")
        ya = dict(domain=vdom(top, top + 305), range=[1987.41, 2018.44],
                  showgrid=False, zeroline=False, anchor=f"x{n}")
        if c == 0:
            ya.update(showline=True, linecolor="black", linewidth=2.5, ticks="",
                      tickvals=facet_year_ticks, ticklabelshift=-5,
                      ticklabelstandoff=12,
                      tickfont=dict(family=FONT, size=40, color="black"))
        else:
            ya.update(showticklabels=False, ticks="")
        layout[f"xaxis{n}"] = xa
        layout[f"yaxis{n}"] = ya
        river = rivers[k]
        if river in panel_data:
            data = panel_data[river]
            for year in sorted(data, reverse=True):
                add_ridge(data[year], year, f"x{n}", f"y{n}", 2.5)
        else:
            fig.add_trace(go.Scatter(x=[None], y=[None], mode="lines",
                                     xaxis=f"x{n}", yaxis=f"y{n}", hoverinfo="skip"))

# axis 14: white panel of the zoomed inset
layout["xaxis14"] = dict(domain=[0, 1], range=[0, W], **hidden)
layout["yaxis14"] = dict(domain=[0, 1], range=[H, 0], **hidden)
fig.add_trace(go.Scatter(x=[924, 2441, 2441, 924, 924], y=[66, 66, 1112, 1112, 66],
                         mode="lines", fill="toself", fillcolor="white",
                         line=dict(color=BOX_BLUE, width=3),
                         xaxis="x14", yaxis="y14", hoverinfo="skip"))

# axis 15: Nemasket ridgeline inset
layout["xaxis15"] = dict(domain=hdom(1053, 2403), range=[48.65, 144.5],
                         showgrid=False, zeroline=False, anchor="y15",
                         showline=True, linecolor="black", linewidth=3,
                         ticks="outside", ticklen=10, tickwidth=2, tickcolor="black",
                         tickvals=inset_day_ticks, ticklabelstandoff=-7,
                         tickfont=dict(family=FONT, size=38, color="black"))
layout["yaxis15"] = dict(domain=vdom(75, 1050), range=[1997.03, 2018.23],
                         showgrid=False, zeroline=False, anchor="x15",
                         showline=True, linecolor="black", linewidth=3, ticks="",
                         tickvals=inset_year_ticks, ticklabelshift=-14,
                         ticklabelstandoff=13,
                         tickfont=dict(family=FONT, size=40, color="black"))
for year in sorted(nemasket_runs, reverse=True):
    add_ridge([nemasket_runs[year]], year, "x15", "y15", 2.5)

# run timing markers
for day, color, y_top, y_bot in [(initiation_day, "#70AD47", 67, 1058),
                                 (median_day, "#0070C0", 67, 1040),
                                 (end_day, "#C00000", 72, 1045)]:
    shapes.append(dict(type="line", xref="x15", yref="paper", layer="above",
                       x0=day, x1=day, y0=1 - y_bot / H, y1=1 - y_top / H,
                       line=dict(color=color, width=4.5, dash="21px,17px")))

# zoom connectors
shapes.append(dict(type="line", xref="paper", yref="paper", layer="above",
                   x0=178 / W, y0=1 - 886 / H, x1=924 / W, y1=1 - 75 / H,
                   line=dict(color=BOX_BLUE, width=1.6)))
shapes.append(dict(type="line", xref="paper", yref="paper", layer="above",
                   x0=177 / W, y0=1 - 1192 / H, x1=1003 / W, y1=1 - 1112 / H,
                   line=dict(color=BOX_BLUE, width=1.6)))
# white label backing behind "Initiation"
shapes.append(dict(type="rect", xref="paper", yref="paper", layer="above",
                   x0=1356 / W, x1=1570 / W, y0=1 - 63 / H, y1=1,
                   fillcolor="white", line=dict(width=0)))

annotations = [
    dict(text="Year", x=30 / W, y=1 - 149 / H, textangle=-90,
         font=dict(family=FONT, size=36, color="black")),
    dict(text="Day of the year", x=1372 / W, y=1 - 1285 / H,
         font=dict(family=FONT, size=42, color="black")),
    dict(text="Initiation", x=1464 / W, y=1 - 26 / H,
         font=dict(family=LABEL_FONT, size=44, color="#548235")),
    dict(text="Median", x=1796 / W, y=1 - 26 / H,
         font=dict(family=LABEL_FONT, size=44, color="#2E75B6")),
    dict(text="End", x=2180 / W, y=1 - 26 / H,
         font=dict(family=LABEL_FONT, size=44, color="#C00000")),
    dict(text="Data: MA DMF", x=2276 / W, y=1 - 1275 / H,
         font=dict(family=LABEL_FONT, size=44, color="black")),
]
for a in annotations:
    a.update(xref="paper", yref="paper", showarrow=False,
             xanchor="center", yanchor="middle")

fig.update_layout(
    width=W, height=H, autosize=False,
    margin=dict(l=0, r=0, t=0, b=0, pad=0),
    paper_bgcolor="white", plot_bgcolor="rgba(0,0,0,0)",
    showlegend=False, hovermode=False,
    shapes=shapes, annotations=annotations,
    **layout,
)

fig.write_html("out.html")
